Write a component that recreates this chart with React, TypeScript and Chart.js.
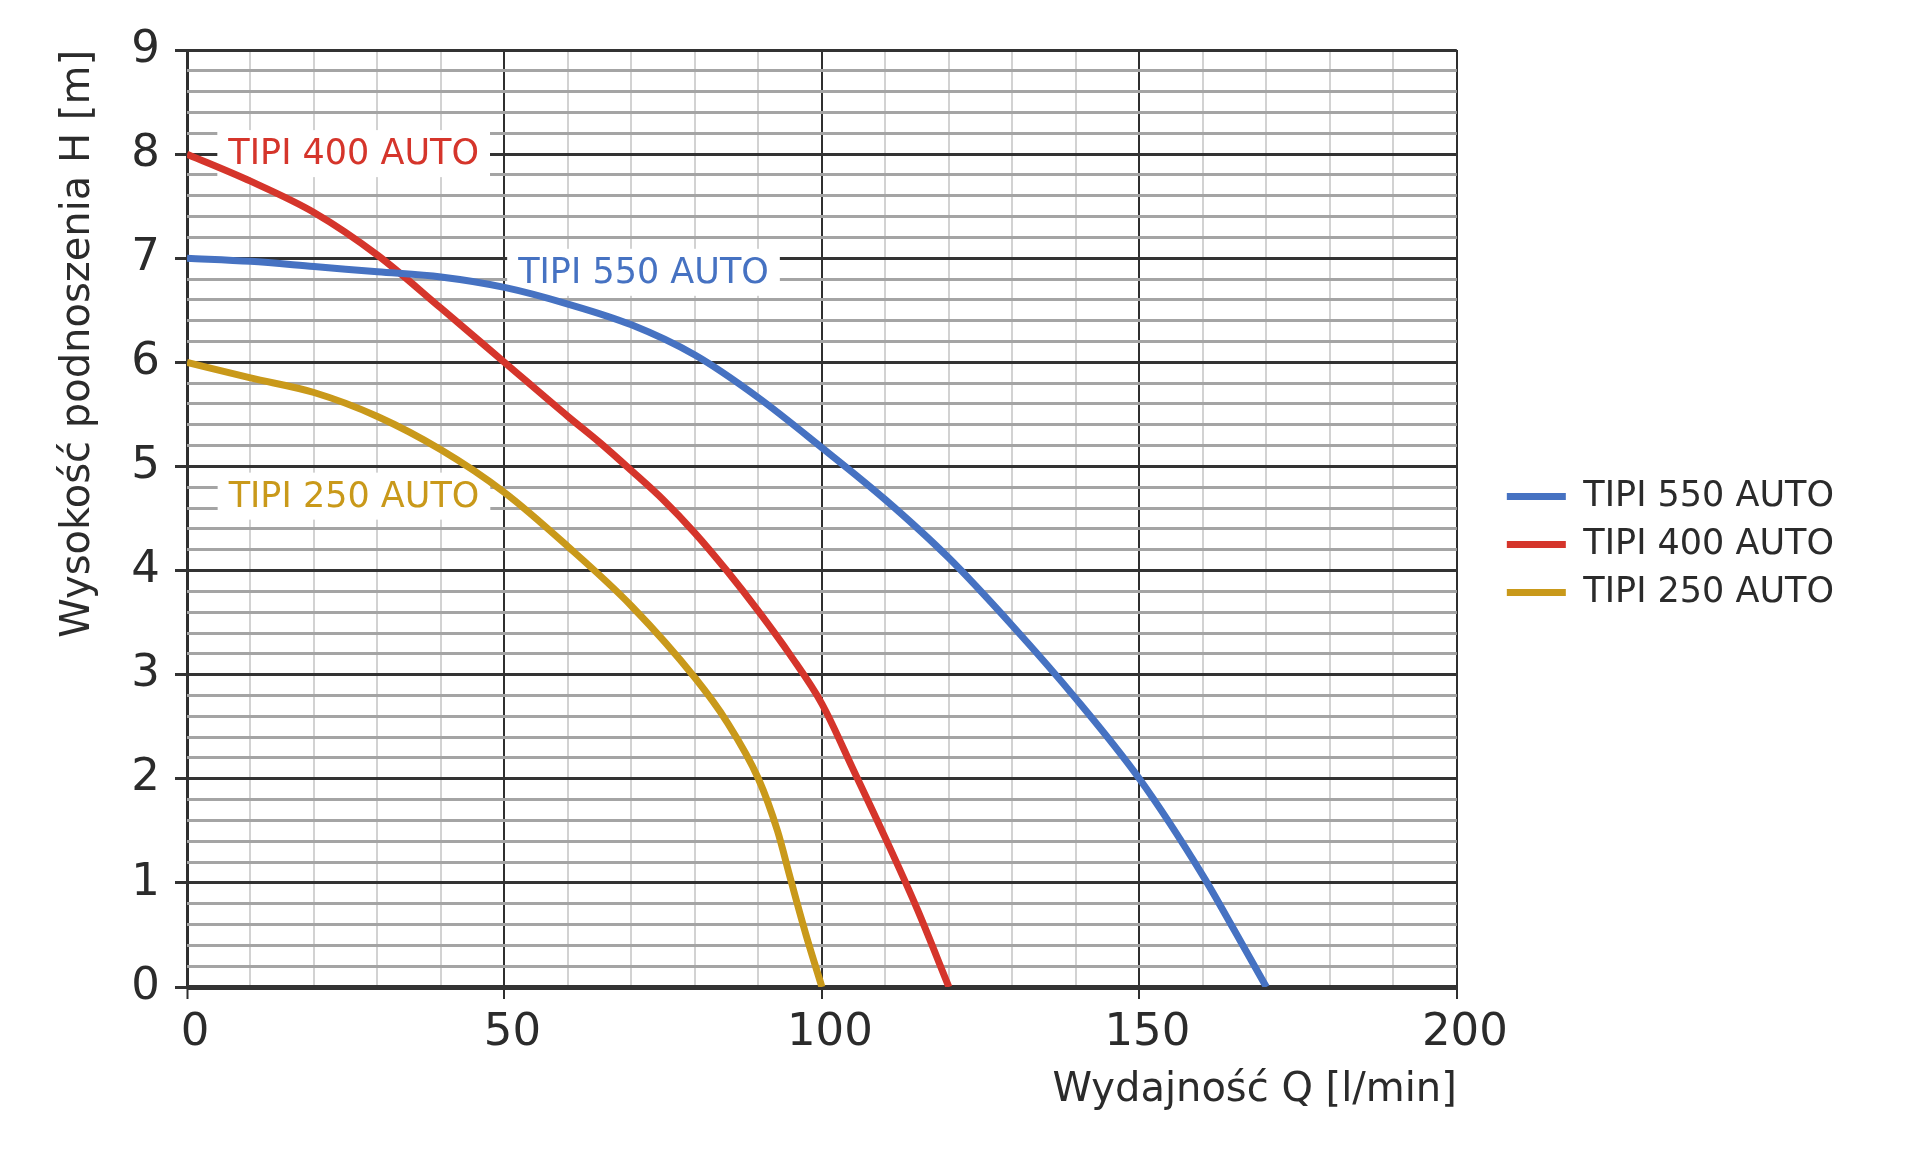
import { useEffect, useRef } from "react";
import { Chart, registerables } from "chart.js";

Chart.register(...registerables);

// pump curves, Q [l/min] -> H [m]
const q550 = [0, 10, 20, 30, 40, 50, 60, 70, 80, 90, 100, 110, 120, 130, 140, 150, 160, 165, 170];
const h550 = [7.0, 6.97, 6.92, 6.87, 6.82, 6.72, 6.56, 6.36, 6.07, 5.66, 5.18, 4.68, 4.12, 3.47, 2.77, 2.0, 1.07, 0.54, 0];
const q400 = [0, 10, 20, 30, 40, 50, 60, 65, 70, 75, 80, 85, 90, 95, 100, 105, 110, 115, 120];
const h400 = [8.0, 7.74, 7.44, 7.03, 6.52, 6.0, 5.48, 5.23, 4.96, 4.68, 4.36, 4.0, 3.61, 3.19, 2.72, 2.08, 1.43, 0.75, 0];
const q250 = [0, 10, 20, 30, 40, 50, 60, 70, 80, 85, 90, 93, 95, 97.5, 100];
const h250 = [6.0, 5.85, 5.71, 5.48, 5.16, 4.75, 4.23, 3.66, 2.97, 2.55, 2.0, 1.5, 1.05, 0.5, 0];

const seriesNames = ["TIPI 550 AUTO", "TIPI 400 AUTO", "TIPI 250 AUTO"];
const xMajor = [0, 50, 100, 150, 200];
const yMajor = [0, 1, 2, 3, 4, 5, 6, 7, 8, 9];

const BLUE = "#4672c2";
const RED = "#d5352b";
const GOLD = "#c9991a";
const TEXT = "#2b2b2b";
const FONT = "'DejaVu Sans', sans-serif";

// curve labels sitting on the grid (anchor = text centre in data units)
const inlineLabels = [
  { text: seriesNames[1], q: 26.25, h: 8.0, color: RED },
  { text: seriesNames[0], q: 71.9, h: 6.86, color: BLUE },
  { text: seriesNames[2], q: 26.3, h: 4.71, color: GOLD },
];

const toPoints = (xs: number[], ys: number[]) => xs.map((x, i) => ({ x, y: ys[i] }));
const isMajorY = (v: number) => yMajor.some((m) => Math.abs(m - v) < 1e-6);
const isMajorX = (v: number) => xMajor.some((m) => Math.abs(m - v) < 1e-6);

const LEGEND_GAP = 37;
const LEGEND_TOP = 466;

// built-in legend, just moved a bit away from the plot
const legendNudge = {
  id: "legendNudge",
  afterLayout(chart: any) {
    const lg = chart.legend;
    if (!lg) return;
    const h = lg.bottom - lg.top;
    lg.left += LEGEND_GAP;
    lg.right += LEGEND_GAP + 20;
    lg.top = LEGEND_TOP;
    lg.bottom = LEGEND_TOP + h;
  },
};

const curveLabels = {
  id: "curveLabels",
  beforeDatasetsDraw(chart: any) {
    const { ctx, scales } = chart;
    ctx.save();
    ctx.font = `35px ${FONT}`;
    ctx.textAlign = "center";
    ctx.textBaseline = "middle";
    inlineLabels.forEach((l) => {
      const px = scales.x.getPixelForValue(l.q);
      const py = scales.y.getPixelForValue(l.h);
      const w = ctx.measureText(l.text).width;
      ctx.fillStyle = "#ffffff";
      ctx.fillRect(px - w / 2 - 11, py - 24, w + 22, 47);
      ctx.fillStyle = l.color;
      ctx.fillText(l.text, px, py + 1);
    });
    ctx.restore();
  },
};

export default function App() {
  const canvasRef = useRef<HTMLCanvasElement | null>(null);

  useEffect(() => {
    if (canvasRef.current == null) return;

    const chart = new Chart(canvasRef.current, {
      type: "line",
      data: {
        datasets: [
          { label: seriesNames[0], data: toPoints(q550, h550), borderColor: BLUE, backgroundColor: BLUE },
          { label: seriesNames[1], data: toPoints(q400, h400), borderColor: RED, backgroundColor: RED },
          { label: seriesNames[2], data: toPoints(q250, h250), borderColor: GOLD, backgroundColor: GOLD },
        ].map((d) => ({
          ...d,
          borderWidth: 7,
          pointRadius: 0,
          fill: false,
          cubicInterpolationMode: "monotone" as const,
        })),
      },
      options: {
        responsive: true,
        maintainAspectRatio: false,
        animation: false,
        layout: { padding: { left: 0, top: 50, right: 113, bottom: 0 } },
        plugins: {
          tooltip: { enabled: false },
          legend: {
            position: "right",
            align: "start",
            labels: {
              color: TEXT,
              font: { family: FONT, size: 35 },
              boxWidth: 59,
              boxHeight: 7,
              padding: 13,
              generateLabels: (c: any) =>
                Chart.defaults.plugins.legend.labels
                  .generateLabels(c)
                  .map((it: any) => ({ ...it, lineWidth: 0 })),
            },
          },
        },
        scales: {
          x: {
            type: "linear",
            min: 0,
            max: 200,
            border: { display: false },
            afterFit: (s: any) => {
              s.height = 166;
            },
            ticks: {
              stepSize: 10,
              autoSkip: false,
              maxRotation: 0,
              padding: 7,
              labelOffset: 8,
              color: TEXT,
              font: { family: FONT, size: 45 },
              callback: (v: any) => (isMajorX(Number(v)) ? String(v) : ""),
            },
            grid: {
              color: (c: any) => (isMajorX(c.tick?.value) ? "#2f2f2f" : "#d2d2d2"),
              lineWidth: (c: any) => (c.tick?.value === 0 ? 3 : 2),
              tickLength: 12,
              tickWidth: 2,
              tickColor: (c: any) => (isMajorX(c.tick?.value) ? "#2f2f2f" : "rgba(0,0,0,0)"),
            },
            title: {
              display: true,
              text: "Wydajność Q [l/min]",
              align: "end",
              color: TEXT,
              font: { family: FONT, size: 40 },
              padding: { top: 0, bottom: 38 },
            },
          },
          y: {
            type: "linear",
            min: 0,
            max: 9,
            border: { display: false },
            afterFit: (s: any) => {
              s.width = 187;
            },
            ticks: {
              stepSize: 0.2,
              autoSkip: false,
              padding: 15,
              color: TEXT,
              font: { family: FONT, size: 45 },
              callback: (v: any) => (isMajorY(Number(v)) ? String(Math.round(Number(v))) : ""),
            },
            grid: {
              color: (c: any) => (isMajorY(c.tick?.value) ? "#333333" : "#a4a4a4"),
              lineWidth: (c: any) => (c.tick?.value === 0 ? 5 : 3),
              tickLength: 12,
              tickWidth: 3,
              tickColor: (c: any) => (isMajorY(c.tick?.value) ? "#333333" : "rgba(0,0,0,0)"),
            },
            title: {
              display: true,
              text: "Wysokość podnoszenia H [m]",
              align: "end",
              color: TEXT,
              font: { family: FONT, size: 40 },
              padding: { top: 55, bottom: 0 },
            },
          },
        },
      },
      plugins: [legendNudge, curveLabels],
    } as any);

    return () => {
      chart.destroy();
    };
  }, []);

  return (
    <div
      style={{
        position: "fixed",
        left: 0,
        top: 0,
        width: "1920px",
        height: "1153px",
        background: "#ffffff",
      }}
    >
      <canvas ref={canvasRef}></canvas>
    </div>
  );
}
